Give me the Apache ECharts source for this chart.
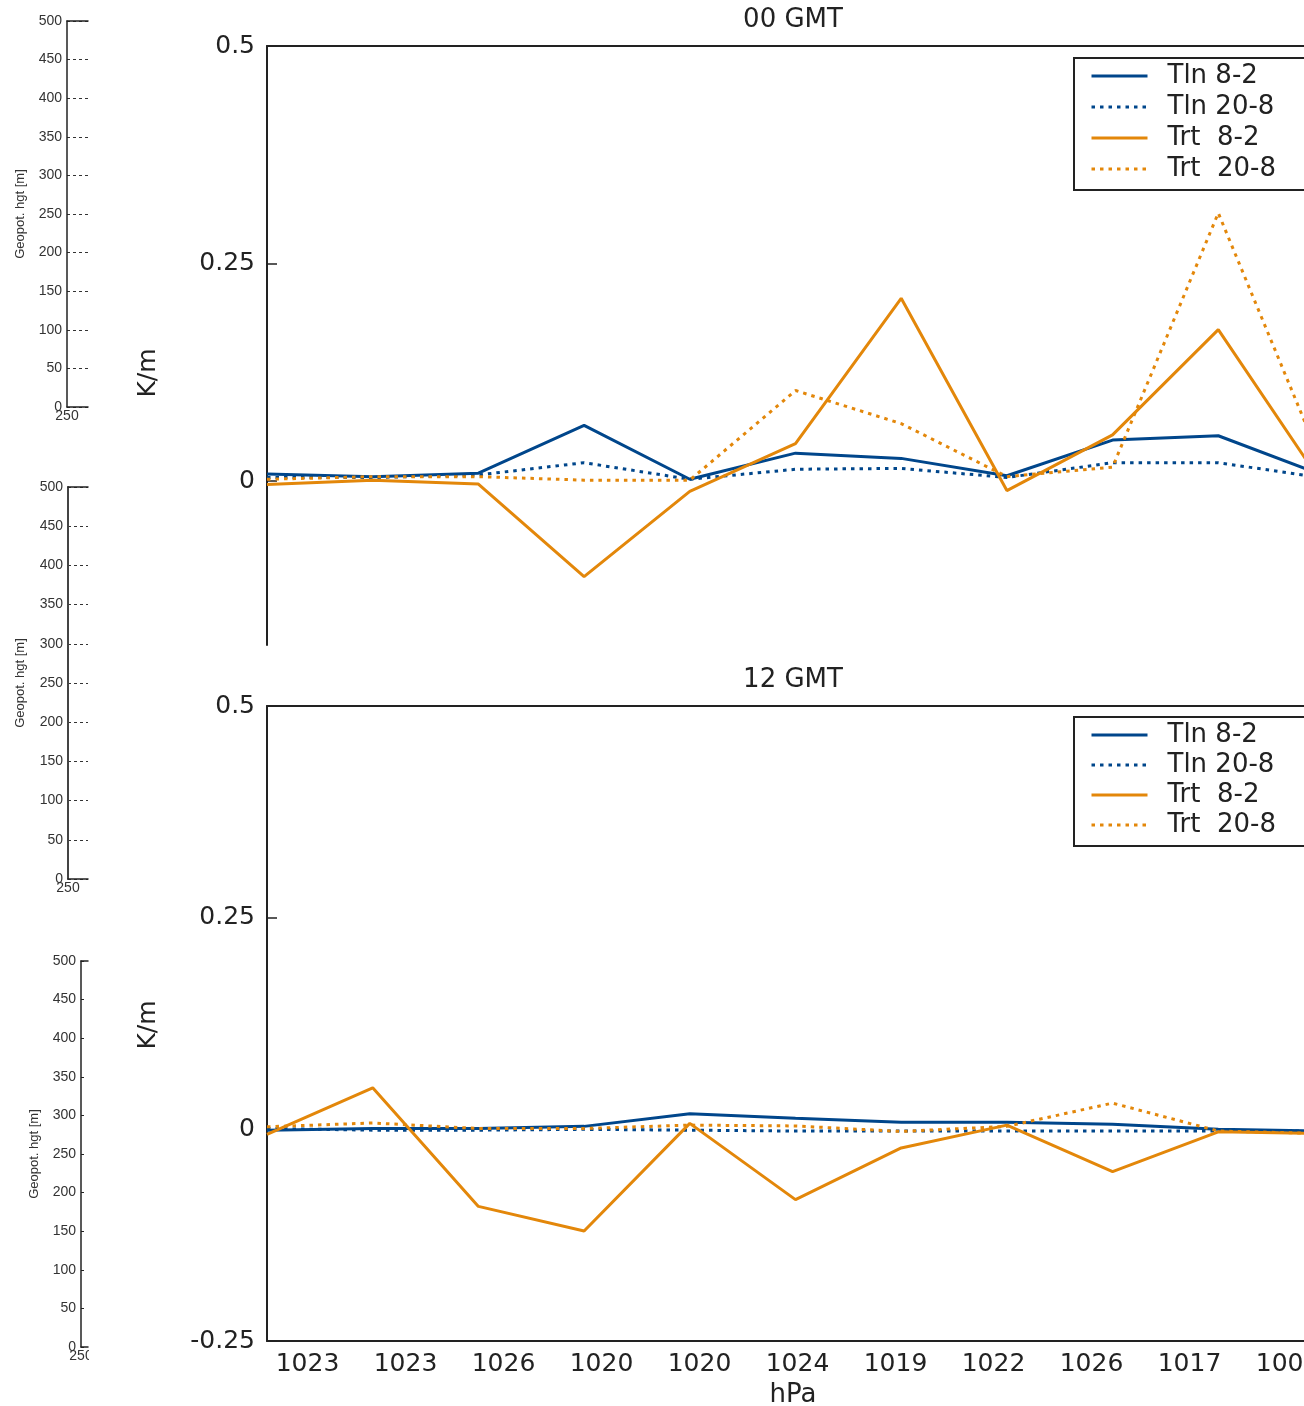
<!DOCTYPE html>
<html>
<head>
<meta charset="utf-8">
<script src="https://cdn.jsdelivr.net/npm/echarts@6/dist/echarts.min.js"></script>
<style>
html,body{margin:0;padding:0;background:#fff;}
#chart{width:1304px;height:1406px;}
</style>
</head>
<body>
<div id="chart"></div>
<script>
// ---------------- data ----------------
const pressureLabels = ['1023','1023','1026','1020','1020','1024','1019','1022','1026','1017','1006'];
const seriesNames = ['Tln 8-2', 'Tln 20-8', 'Trt  8-2', 'Trt  20-8'];

// 00 GMT panel (K/m)
const gmt00_tln82  = [0.008, 0.005, 0.009, 0.064, 0.002, 0.032, 0.026, 0.006, 0.047, 0.052, 0.006];
const gmt00_tln208 = [0.004, 0.004, 0.007, 0.021, 0.002, 0.0135, 0.0145, 0.004, 0.021, 0.021, 0.0035];
const gmt00_trt82  = [-0.004, 0.001, -0.0035, -0.110, -0.012, 0.043, 0.210, -0.011, 0.053, 0.174, -0.006];
const gmt00_trt208 = [0.002, 0.005, 0.005, 0.001, 0.001, 0.104, 0.066, 0.005, 0.016, 0.308, 0.015];

// 12 GMT panel (K/m)
const gmt12_tln82  = [-0.001, 0.001, 0.001, 0.0035, 0.0185, 0.013, 0.0085, 0.0085, 0.006, 0.0, -0.002];
const gmt12_tln208 = [0.001, -0.001, -0.001, 0.0, -0.001, -0.002, -0.002, -0.002, -0.002, -0.002, -0.002];
const gmt12_trt82  = [-0.006, 0.049, -0.091, -0.120, 0.007, -0.083, -0.022, 0.005, -0.050, -0.003, -0.005];
const gmt12_trt208 = [0.003, 0.0075, 0.001, 0.001, 0.005, 0.004, -0.0025, 0.0035, 0.031, -0.002, -0.005];

const kmTicksTop = [0, 0.25, 0.5];
const geopotLabel = 'Geopot. hgt [m]';
const geopotBottomTick = [250];

// ---------------- styling ----------------
const BLUE = '#00468b';
const ORANGE = '#e3870a';
const INK = '#222';
const MAIN_FONT = 'DejaVu Sans';
const MINI_FONT = 'Liberation Sans';
const DOT = [3.5, 5];

const pointIndex = pressureLabels.map((_, i) => i);
const XMAX = 9.811;                  // visible part of the data axis
const LMIN = -0.413, LMAX = 10.168;  // label axis range

function pts(vals) { return pointIndex.map(i => [i, vals[i]]); }

const chart = echarts.init(document.getElementById('chart'), null, {renderer: 'canvas'});

// mini geopotential axes on the left
const miniDefs = [
  {left: 67, top: 21, height: 386, width: 21, mode: 'dash'},
  {left: 68, top: 487, height: 392, width: 20, mode: 'dash'},
  {left: 81, top: 961, height: 386, width: 7, mode: 'tick'}
];

const grids = [], xAxes = [], yAxes = [];
miniDefs.forEach((d, g) => {
  grids.push({left: d.left, top: d.top, width: d.width, height: d.height, containLabel: false, outerBoundsMode: 'none'});
  xAxes.push({
    gridIndex: g, type: 'value', min: 250, max: 260, position: 'bottom',
    axisLine: {show: true, onZero: false, lineStyle: {color: INK, width: 1.5}},
    axisTick: {show: false}, splitLine: {show: false},
    axisLabel: {customValues: geopotBottomTick, fontSize: 14, margin: 2, color: '#333', fontFamily: MINI_FONT}
  });
  xAxes.push({
    gridIndex: g, type: 'value', min: 250, max: 260, position: 'top',
    axisLine: {show: true, onZero: false, lineStyle: {color: INK, width: 1.5}},
    axisTick: {show: false}, splitLine: {show: false}, axisLabel: {show: false}
  });
  yAxes.push({
    gridIndex: g, type: 'value', min: 0, max: 500, interval: 50,
    name: geopotLabel, nameLocation: 'middle', nameGap: g === 1 ? 41 : 40,
    nameTextStyle: {fontSize: 13, fontFamily: MINI_FONT, color: '#333'},
    axisLine: {show: true, onZero: false, lineStyle: {color: g === 1 ? '#444' : INK, width: g === 1 ? 2 : 1.5}},
    axisTick: d.mode === 'tick' ? {show: true, inside: true, length: 3, lineStyle: {color: INK}} : {show: false},
    axisLabel: {fontSize: 14, margin: 5, color: '#333', fontFamily: MINI_FONT},
    splitLine: d.mode === 'dash' ? {show: true, lineStyle: {type: [3, 3], color: '#333', width: 1}} : {show: false}
  });
});

// main grids
grids.push({left: 267, right: 0, top: 46, height: 599, containLabel: false, outerBoundsMode: 'none'}); // 00 GMT
grids.push({left: 267, right: 0, top: 706, height: 635, containLabel: false, outerBoundsMode: 'none'}); // 12 GMT

const xTopData = xAxes.length;
xAxes.push({
  gridIndex: 3, type: 'value', min: 0, max: XMAX, position: 'top',
  axisLine: {show: true, onZero: false, lineStyle: {color: INK, width: 2}},
  axisTick: {show: false}, axisLabel: {show: false}, splitLine: {show: false}
});
const xBotData = xAxes.length;
xAxes.push({
  gridIndex: 4, type: 'value', min: 0, max: XMAX, position: 'top',
  axisLine: {show: true, onZero: false, lineStyle: {color: INK, width: 2}},
  axisTick: {show: false}, axisLabel: {show: false}, splitLine: {show: false}
});
xAxes.push({
  gridIndex: 4, type: 'value', min: LMIN, max: LMAX, position: 'bottom',
  axisLine: {show: true, onZero: false, lineStyle: {color: INK, width: 2}},
  axisTick: {show: false}, splitLine: {show: false},
  axisLabel: {
    customValues: pointIndex, margin: 11, fontSize: 25, color: INK, fontFamily: MAIN_FONT,
    hideOverlap: false,
    formatter: v => pressureLabels[Math.round(v)]
  }
});

const yTop = yAxes.length;
yAxes.push({
  gridIndex: 3, type: 'value', min: -0.1885, max: 0.5,
  axisLine: {show: true, onZero: false, lineStyle: {color: INK, width: 2}},
  axisTick: {show: true, inside: true, length: 10, customValues: kmTicksTop, lineStyle: {color: INK, width: 1.5}},
  axisLabel: {customValues: kmTicksTop, fontSize: 25, margin: 12, color: INK, fontFamily: MAIN_FONT},
  splitLine: {show: false}
});
const yBot = yAxes.length;
yAxes.push({
  gridIndex: 4, type: 'value', min: -0.25, max: 0.5, interval: 0.25,
  axisLine: {show: true, onZero: false, lineStyle: {color: INK, width: 2}},
  axisTick: {show: true, inside: true, length: 10, lineStyle: {color: INK, width: 1.5}},
  axisLabel: {fontSize: 25, margin: 12, color: INK, fontFamily: MAIN_FONT},
  splitLine: {show: false}
});

function line(name, vals, xi, yi, color, dotted) {
  return {
    name, type: 'line', xAxisIndex: xi, yAxisIndex: yi, data: pts(vals),
    symbol: 'none', showSymbol: false, clip: true, silent: true,
    lineStyle: {color, width: 3, type: dotted ? DOT : 'solid'},
    itemStyle: {color}
  };
}

const series = [
  line(seriesNames[0], gmt00_tln82,  xTopData, yTop, BLUE, false),
  line(seriesNames[1], gmt00_tln208, xTopData, yTop, BLUE, true),
  line(seriesNames[2], gmt00_trt82,  xTopData, yTop, ORANGE, false),
  line(seriesNames[3], gmt00_trt208, xTopData, yTop, ORANGE, true),
  line(seriesNames[0], gmt12_tln82,  xBotData, yBot, BLUE, false),
  line(seriesNames[1], gmt12_tln208, xBotData, yBot, BLUE, true),
  line(seriesNames[2], gmt12_trt82,  xBotData, yBot, ORANGE, false),
  line(seriesNames[3], gmt12_trt208, xBotData, yBot, ORANGE, true)
];

function legendAt(top, gap) {
  return {
    left: 1074, top, orient: 'vertical', data: seriesNames,
    backgroundColor: '#fff', borderColor: INK, borderWidth: 2,
    padding: [5, 40, 8, 16], itemWidth: 56, itemHeight: 14, itemGap: gap,
    selectedMode: false,
    itemStyle: {opacity: 0},
    lineStyle: {width: 3},
    textStyle: {fontSize: 26, lineHeight: 26, color: INK, fontFamily: MAIN_FONT, padding: [0, 0, 0, 15]}
  };
}

const titleStyle = {fontSize: 26, fontWeight: 'normal', color: INK, fontFamily: MAIN_FONT};

const option = {
  animation: false,
  backgroundColor: '#fff',
  title: [
    {text: '00 GMT', left: 793, top: 7, textAlign: 'center', padding: 0, textStyle: titleStyle},
    {text: '12 GMT', left: 793, top: 667, textAlign: 'center', padding: 0, textStyle: titleStyle},
    {text: 'hPa', left: 793, top: 1382, textAlign: 'center', padding: 0, textStyle: titleStyle}
  ],
  legend: [legendAt(58, 5), legendAt(717, 4)],
  grid: grids,
  xAxis: xAxes,
  yAxis: yAxes,
  series,
  graphic: [
    {type: 'text', x: 148, y: 373, rotation: Math.PI / 2,
     style: {text: 'K/m', font: '25px "DejaVu Sans"', fill: INK, align: 'center', verticalAlign: 'middle'}},
    {type: 'text', x: 148, y: 1025, rotation: Math.PI / 2,
     style: {text: 'K/m', font: '25px "DejaVu Sans"', fill: INK, align: 'center', verticalAlign: 'middle'}},
    {type: 'rect', shape: {x: 89, y: 1350, width: 30, height: 24}, style: {fill: '#fff'}, z: 100}
  ]
};
chart.setOption(option);
</script>
</body>
</html>
